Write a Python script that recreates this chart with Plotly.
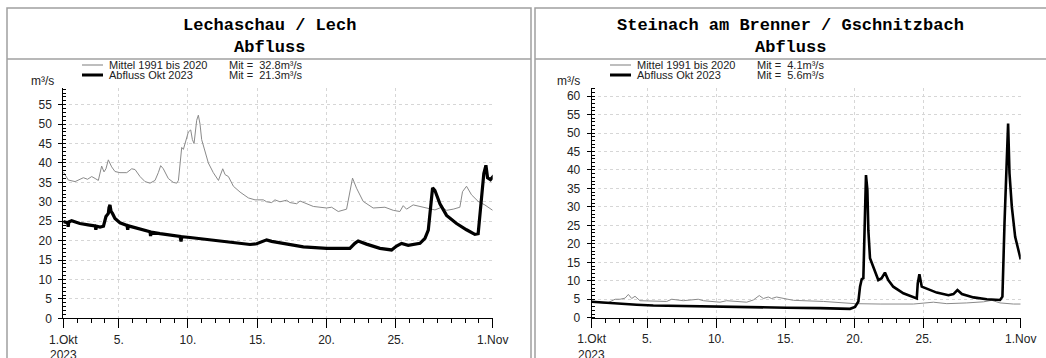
import plotly.graph_objects as go

W, H = 1046, 358

# ---------------- data (day offset from 1 Oct 2023 00:00) ----------------
lech_mittel_day = [0, 0.36, 0.85, 1.45, 1.75, 2.05, 2.3, 2.53, 2.77, 2.94, 3.08, 3.25, 3.49, 3.73,
                   4.09, 4.58, 4.94, 5.18, 5.54, 5.90, 6.26, 6.62, 6.86, 7.03, 7.22, 7.58, 7.94,
                   8.19, 8.31, 8.55, 8.67, 8.79, 9.03, 9.20, 9.32, 9.44, 9.63, 9.75, 9.87, 9.99,
                   10.23, 10.47, 10.83, 11.20, 11.51, 11.68, 11.92, 12.28, 12.76, 13.36, 13.84,
                   14.44, 14.68, 15.04, 15.28, 15.64, 16.12, 16.36, 16.85, 17.09, 18.05, 19.01,
                   19.37, 19.85, 20.45, 20.69, 20.88, 21.17, 21.65, 22.37, 23.22, 23.82, 24.30,
                   24.54, 24.78, 25.26, 25.75, 26.35, 26.83, 27.31, 27.67, 28.15, 28.63, 28.82,
                   29.11, 29.47, 29.95, 30.43, 31.0]
lech_mittel_val = [37.7, 35.6, 35.2, 36.2, 35.8, 36.5, 36.0, 35.5, 39.2, 37.7, 38.5, 40.8, 39.0, 37.8,
                   37.5, 37.5, 38.5, 38.3, 36.5, 35.2, 34.8, 35.5, 37.5, 39.3, 38.5, 36.0, 35.0,
                   34.8, 35.5, 44.0, 43.5, 45.0, 48.0, 48.5, 46.0, 45.0, 51.0, 52.3, 50.0, 46.0,
                   43.0, 40.0, 37.5, 35.5, 38.5, 37.0, 36.5, 34.0, 32.5, 31.0, 30.5,
                   30.5, 30.0, 29.8, 30.5, 30.0, 30.4, 29.8, 29.5, 30.2, 28.8, 28.4,
                   28.6, 27.5, 28.1, 33.1, 36.1, 33.5, 30.1, 28.4, 28.6, 27.8, 27.5,
                   29.0, 28.1, 29.2, 28.8, 28.4, 27.9, 28.6, 27.8, 28.1, 28.6, 32.6,
                   34.0, 31.8, 30.1, 29.2, 27.8]

lech_2023_day = [0.0, 0.3, 0.35, 0.4, 0.6, 1.2, 1.9, 2.3, 2.35, 2.4, 2.65, 2.9, 3.08, 3.25, 3.3,
                 3.37, 3.45, 3.55, 3.73, 4.09, 4.6, 4.65, 4.7, 5.54, 6.26, 6.3, 6.35, 6.98, 7.70,
                 8.43, 8.5, 8.55, 9.15, 9.87, 10.83, 11.80, 12.76, 13.48, 13.96, 14.44, 14.68,
                 15.04, 16.12, 17.33, 19.01, 20.69, 21.05, 21.29, 21.89, 22.86, 23.70, 24.06,
                 24.42, 24.90, 25.75, 26.11, 26.35, 26.47, 26.66, 26.83, 27.19, 27.67, 28.39,
                 29.11, 29.71, 29.95, 30.19, 30.36, 30.51, 30.63, 30.84, 30.96, 31.0]
lech_2023_val = [24.9, 24.6, 23.6, 24.8, 25.1, 24.4, 24.0, 23.8, 22.8, 23.7, 23.5, 23.7, 26.2, 27.0, 28.5,
                 29.2, 27.5, 27.0, 25.7, 24.6, 23.9, 22.8, 23.8, 23.1, 22.3, 21.2, 22.2, 21.8, 21.4,
                 21.1, 19.8, 21.0, 20.8, 20.5, 20.1, 19.7, 19.2, 19.0, 19.2, 20.0, 20.2,
                 19.8, 19.1, 18.4, 18.0, 18.0, 19.3, 19.9, 19.1, 18.0, 17.6, 18.6,
                 19.3, 18.8, 19.3, 20.6, 22.7, 27.8, 33.6, 32.9, 29.5, 26.5, 24.4,
                 22.8, 21.6, 21.8, 30.4, 37.3, 39.4, 36.2, 35.7, 36.2, 35.8]

stein_mittel_day = [0, 1.08, 1.69, 2.05, 2.41, 2.65, 2.89, 3.13, 3.49, 4.45, 5.42, 5.78, 6.62, 7.70,
                    8.07, 9.27, 9.75, 11.20, 11.68, 12.11, 12.40, 12.76, 13.00, 13.36, 13.84, 14.57,
                    16.74, 18.43, 19.03, 20.84, 23.25, 24.69, 25.66, 27.10, 28.31, 28.91, 29.51,
                    30.48, 31.0]
stein_mittel_val = [4.3, 3.9, 5.0, 5.0, 5.3, 6.3, 5.2, 5.8, 4.6, 4.6, 4.4, 5.0, 4.6, 5.0,
                    4.6, 4.2, 4.6, 4.2, 4.8, 6.0, 5.2, 5.6, 5.2, 5.6, 5.2, 4.7,
                    4.4, 4.0, 3.8, 3.7, 3.7, 4.2, 3.8, 4.0, 4.3, 4.7, 4.0,
                    3.7, 3.7]

stein_2023_day = [0, 1.08, 2.05, 3.25, 4.45, 6.86, 9.27, 11.68, 14.08, 16.50, 18.67, 19.03, 19.27,
                  19.39, 19.51, 19.63, 19.75, 19.82, 19.92, 19.99, 20.11, 20.47, 20.71, 20.95,
                  21.19, 21.43, 21.79, 22.52, 23.25, 23.49, 23.56, 23.68, 23.85, 24.21, 24.93,
                  25.78, 26.14, 26.43, 26.75, 27.59, 28.55, 29.51, 29.68, 29.83, 30.0, 30.09,
                  30.19, 30.36, 30.6, 30.84, 31.0]
stein_2023_val = [4.3, 4.0, 3.7, 3.5, 3.3, 3.1, 2.9, 2.7, 2.7, 2.6, 2.4, 2.9, 4.4,
                  8.4, 10.4, 10.7, 34.6, 38.6, 34.6, 23.7, 16.1, 12.5, 10.2, 10.7,
                  12.2, 10.2, 8.4, 6.6, 5.5, 5.2, 9.3, 11.8, 8.4, 7.8, 6.8,
                  6.1, 6.4, 7.5, 6.4, 5.5, 5.0, 4.8, 5.7, 25.6, 46.3, 52.6,
                  39.1, 30.0, 21.9, 17.9, 15.8]

xtick_vals = [0, 4, 9, 14, 19, 24, 31]
xtick_text = ["1.Okt", "5.", "10.", "15.", "20.", "25.", "1.Nov"]
year_label = "2023"

titles = ["Lechaschau / Lech", "Steinach am Brenner / Gschnitzbach"]
subtitle = "Abfluss"
legend_names = ["Mittel 1991 bis 2020", "Abfluss Okt 2023"]
legend_means = [["Mit =  32.8m³/s", "Mit =  21.3m³/s"], ["Mit =  4.1m³/s", "Mit =  5.6m³/s"]]
unit = "m³/s"

# ---------------- figure ----------------
def px(x):
    return x / W


def py(y):
    return 1 - y / H


GRAY = "#8a8a8a"
FONT = "Liberation Sans"

fig = go.Figure()
fig.add_trace(go.Scatter(x=lech_mittel_day, y=lech_mittel_val, mode="lines",
                         line=dict(color=GRAY, width=1), xaxis="x", yaxis="y", showlegend=False))
fig.add_trace(go.Scatter(x=lech_2023_day, y=lech_2023_val, mode="lines",
                         line=dict(color="black", width=3.2), xaxis="x", yaxis="y", showlegend=False))
fig.add_trace(go.Scatter(x=stein_mittel_day, y=stein_mittel_val, mode="lines",
                         line=dict(color=GRAY, width=1), xaxis="x2", yaxis="y2", showlegend=False))
fig.add_trace(go.Scatter(x=stein_2023_day, y=stein_2023_val, mode="lines",
                         line=dict(color="black", width=2.6), xaxis="x2", yaxis="y2", showlegend=False))

GRID = "#d6d6d6"


def xaxis(domain, anchor):
    return dict(domain=domain, anchor=anchor, range=[0, 31], tickmode="array",
                tickvals=xtick_vals, ticktext=xtick_text, ticks="outside", ticklen=9,
                tickcolor="black", showline=True, linecolor="black", linewidth=1,
                showgrid=True, gridcolor=GRID, griddash="dot", gridwidth=1, zeroline=False,
                tickfont=dict(family=FONT, size=12, color="#222"), automargin=False,
                ticklabelstandoff=1,
                minor=dict(tickmode="linear", tick0=0, dtick=1, ticks="outside", ticklen=4,
                           tickcolor="black", showgrid=False),
                fixedrange=True)


def yaxis(domain, anchor, top):
    return dict(domain=domain, anchor=anchor, range=[0, top], tickmode="linear", tick0=0,
                dtick=5, ticks="outside", ticklen=4, tickcolor="black", showline=True,
                linecolor="black", linewidth=1, showgrid=True, gridcolor=GRID,
                griddash="dot", gridwidth=1, zeroline=False, ticklabelstandoff=4,
                tickfont=dict(family=FONT, size=12, color="#222"), automargin=False,
                minor=dict(tickmode="linear", tick0=0, dtick=1, ticks="inside", ticklen=3,
                           tickcolor="black", showgrid=False),
                fixedrange=True)


fig.update_layout(
    width=W, height=H, margin=dict(l=0, r=0, t=0, b=0),
    paper_bgcolor="white", plot_bgcolor="white", showlegend=False,
    xaxis=xaxis([px(63.3), px(492.7)], "y"),
    yaxis=yaxis([py(318.3), py(88)], "x", 59.3),
    xaxis2=xaxis([px(591.7), px(1020.7)], "y2"),
    yaxis2=yaxis([py(317.7), py(88)], "x2", 62.2),
)

FRAME = "#a0a0a0"
shapes = []
for (x0, x1) in [(7, 531), (535, 1060)]:
    shapes.append(dict(type="rect", xref="paper", yref="paper", x0=px(x0), x1=px(x1),
                       y0=py(8), y1=py(380), line=dict(color=FRAME, width=1.5)))
    shapes.append(dict(type="line", xref="paper", yref="paper", x0=px(x0), x1=px(x1),
                       y0=py(59), y1=py(59), line=dict(color=FRAME, width=1.5)))

annotations = []
panels = [dict(cx=269, lx=82, tx=107, mx=227, ux=42, ax=63.3),
          dict(cx=790, lx=610, tx=635, mx=755, ux=568, ax=591.7)]
for i, p in enumerate(panels):
    annotations.append(dict(xref="paper", yref="paper", x=px(p["cx"]), y=py(26),
                            text="<b>" + titles[i] + "</b>", showarrow=False,
                            xanchor="center", yanchor="middle",
                            font=dict(family="Liberation Mono", size=17, color="black")))
    annotations.append(dict(xref="paper", yref="paper", x=px(p["cx"]), y=py(47),
                            text="<b>" + subtitle + "</b>", showarrow=False,
                            xanchor="center", yanchor="middle",
                            font=dict(family="Liberation Mono", size=17, color="black")))
    for j, (ly, col, lw) in enumerate([(65, "#a8a8a8", 1.5), (75, "black", 3)]):
        shapes.append(dict(type="line", xref="paper", yref="paper", x0=px(p["lx"]),
                           x1=px(p["lx"] + 21), y0=py(ly), y1=py(ly),
                           line=dict(color=col, width=lw)))
        annotations.append(dict(xref="paper", yref="paper", x=px(p["tx"]), y=py(ly),
                                text=legend_names[j], showarrow=False, xanchor="left",
                                yanchor="middle",
                                font=dict(family=FONT, size=11, color="#222")))
        annotations.append(dict(xref="paper", yref="paper", x=px(p["mx"]), y=py(ly),
                                text=legend_means[i][j], showarrow=False, xanchor="left",
                                yanchor="middle",
                                font=dict(family=FONT, size=11, color="#222")))
    annotations.append(dict(xref="paper", yref="paper", x=px(p["ux"]), y=py(81),
                            text=unit, showarrow=False, xanchor="center", yanchor="middle",
                            font=dict(family=FONT, size=12, color="#222")))
    annotations.append(dict(xref="paper", yref="paper", x=px(p["ax"]), y=py(355),
                            text=year_label, showarrow=False, xanchor="center",
                            yanchor="middle",
                            font=dict(family=FONT, size=12, color="#222")))

fig.update_layout(shapes=shapes, annotations=annotations)
fig.write_html("out.html")
